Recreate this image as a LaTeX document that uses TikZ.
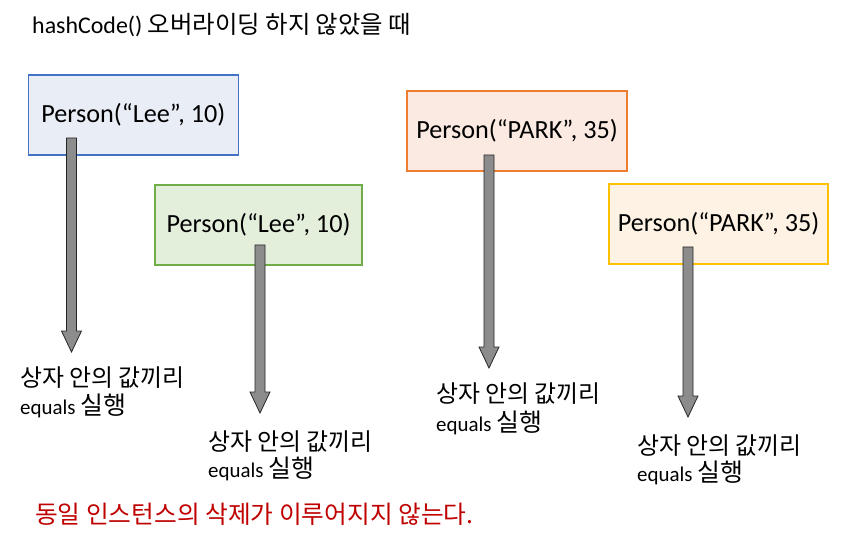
\documentclass[tikz,border=0pt]{standalone}
\usepackage{fontspec}
\setmainfont{Carlito}
\newfontfamily\kr{Noto Sans CJK KR}
\usetikzlibrary{calc}
\definecolor{b1f}{HTML}{E9EDF5}\definecolor{b1d}{HTML}{4472C4}
\definecolor{b2f}{HTML}{E3EEDB}\definecolor{b2d}{HTML}{70AD47}
\definecolor{b3f}{HTML}{FBEAE2}\definecolor{b3d}{HTML}{ED7D31}
\definecolor{b4f}{HTML}{FDF2E3}\definecolor{b4d}{HTML}{FFC000}
\definecolor{redtxt}{HTML}{C00000}
\definecolor{arrfill}{HTML}{8C8C8C}
\tikzset{
  box/.style={draw, line width=1.2bp, minimum height=80bp, inner sep=0pt, font=\fontsize{26.3}{30}\selectfont},
  lbl/.style={anchor=west, inner sep=0pt, align=left},
  krl/.style={font={\kr\fontsize{24}{28}\selectfont}},
  enl/.style={font=\fontsize{21}{25}\selectfont},
  blockarrow/.style={fill=arrfill, draw=black!85, line width=0.8bp, line join=miter}
}
\newcommand{\blockarr}[2]{% start, end coordinates
  \draw[blockarrow] ($(#1)+(-5,0)$) -- ($(#2)+(-5,-21)$) -- ($(#2)+(-10,-21)$) -- (#2) -- ($(#2)+(10,-21)$) -- ($(#2)+(5,-21)$) -- ($(#1)+(5,0)$) -- cycle;}
\newcommand{\krsil}{{\kr\fontsize{25}{28}\selectfont 실행}}
\begin{document}
\begin{tikzpicture}[x=1bp,y=-1bp]
\useasboundingbox (0,0) rectangle (845,541);
\fill[white] (0,0) rectangle (845,541);
\node[anchor=west, inner sep=0pt, font=\fontsize{24}{28}\selectfont] (title) at (32,25) {hashCode() {\kr\fontsize{24.5}{28}\selectfont 오버라이딩 하지 않았을 때}};

\node[box, fill=b1f, draw=b1d, minimum width=210bp] (b1) at (133.3,115) {Person(“Lee”, 10)};
\node[box, fill=b2f, draw=b2d, minimum width=207bp] (b2) at (258.5,225) {Person(“Lee”, 10)};
\node[box, fill=b3f, draw=b3d, minimum width=220bp] (b3) at (517,131) {Person(“PARK”, 35)};
\node[box, fill=b4f, draw=b4d, minimum width=219bp] (b4) at (718.5,224) {Person(“PARK”, 35)};

\coordinate (a1s) at (71.5,138); \coordinate (a1e) at (71.5,352);
\coordinate (a2s) at (260,245); \coordinate (a2e) at (260,413);
\coordinate (a3s) at (489,155); \coordinate (a3e) at (489,368);
\coordinate (a4s) at (688,247); \coordinate (a4e) at (688,417);
\blockarr{a1s}{a1e}
\blockarr{a2s}{a2e}
\blockarr{a3s}{a3e}
\blockarr{a4s}{a4e}

\node[lbl, krl] (l1a) at (20,378) {상자 안의 값끼리};
\node[lbl, enl] (l1b) at (20,406) {equals \krsil};
\node[lbl, krl] (l2a) at (208,442) {상자 안의 값끼리};
\node[lbl, enl] (l2b) at (208,469) {equals \krsil};
\node[lbl, krl] (l3a) at (436,394) {상자 안의 값끼리};
\node[lbl, enl] (l3b) at (436,423) {equals \krsil};
\node[lbl, krl] (l4a) at (637,446) {상자 안의 값끼리};
\node[lbl, enl] (l4b) at (637,473) {equals \krsil};

\node[anchor=west, inner sep=0pt, text=redtxt, font={\kr\fontsize{24.8}{28}\selectfont}] (note) at (35,514) {동일 인스턴스의 삭제가 이루어지지 않는다.};
\end{tikzpicture}
\end{document}
